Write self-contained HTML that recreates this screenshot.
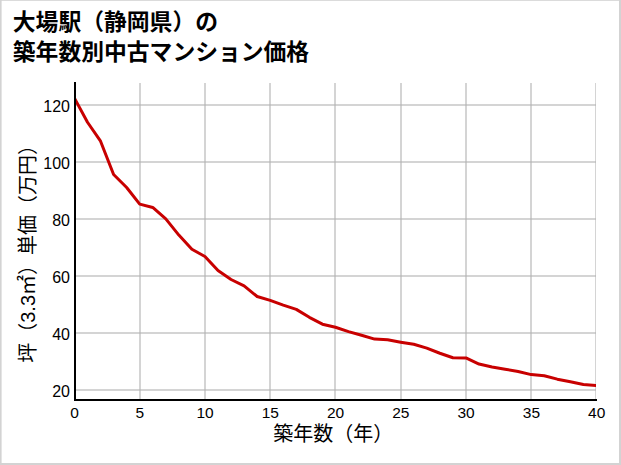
<!DOCTYPE html>
<html><head><meta charset="utf-8"><title>chart</title>
<style>html,body{margin:0;padding:0;background:#fff;font-family:"Liberation Sans",sans-serif}</style>
</head><body>
<svg width="621" height="465" viewBox="0 0 621 465" style="display:block" role="img" aria-label="大場駅（静岡県）の築年数別中古マンション価格">
<title>大場駅（静岡県）の築年数別中古マンション価格</title>
<desc>折れ線グラフ。横軸: 築年数（年） 0 5 10 15 20 25 30 35 40。縦軸: 坪（3.3㎡）単価（万円） 20 40 60 80 100 120。</desc>
<rect x="0" y="0" width="621" height="465" fill="#d3d3d3"/>
<rect x="1.6" y="0.8" width="617.4" height="462.2" fill="#ffffff"/>
<defs><clipPath id="ax"><rect x="75" y="83" width="521" height="317"/></clipPath></defs>
<g clip-path="url(#ax)">
<g fill="rgba(176,176,176,0.55)">
<rect x="74" y="83" width="2" height="317"/>
<rect x="139" y="83" width="2" height="317"/>
<rect x="204" y="83" width="2" height="317"/>
<rect x="269" y="83" width="2" height="317"/>
<rect x="334" y="83" width="2" height="317"/>
<rect x="400" y="83" width="2" height="317"/>
<rect x="465" y="83" width="2" height="317"/>
<rect x="530" y="83" width="2" height="317"/>
<rect x="595" y="83" width="2" height="317"/>
<rect x="75" y="389" width="521" height="2"/>
<rect x="75" y="332" width="521" height="2"/>
<rect x="75" y="275" width="521" height="2"/>
<rect x="75" y="218" width="521" height="2"/>
<rect x="75" y="161" width="521" height="2"/>
<rect x="75" y="104" width="521" height="2"/>
</g>
<polyline points="74.45,98.16 87.50,122.24 100.55,141.19 113.60,174.54 126.65,187.51 139.70,204.09 152.75,207.46 165.80,218.91 178.85,235.10 191.90,249.21 204.95,256.48 218.00,270.58 231.05,279.48 244.10,285.80 257.15,296.52 270.20,300.37 283.25,305.07 296.30,309.35 309.35,317.32 322.40,324.17 335.45,327.30 348.50,331.57 361.55,335.28 374.60,339.10 387.65,339.84 400.70,342.21 413.75,344.29 426.80,348.11 439.85,353.24 452.90,357.71 465.95,357.94 479.00,364.06 492.05,367.00 505.10,369.19 518.15,371.48 531.20,374.61 544.25,375.75 557.30,379.17 570.35,381.74 583.40,384.58 596.45,385.44" fill="none" stroke="#c80000" stroke-width="3.0" stroke-linejoin="round" stroke-linecap="butt"/>
</g>
<g stroke="#000" stroke-width="2" stroke-linecap="square" fill="none">
<line x1="75.0" y1="83.0" x2="75.0" y2="400.0"/>
<line x1="75.0" y1="400.0" x2="596.0" y2="400.0"/>
</g>
<g font-family="'Liberation Sans','Noto Sans CJK JP',sans-serif" font-size="15.5" fill="#000000" text-anchor="middle">
<text x="74.45" y="417.8">0</text>
<text x="139.73" y="417.8">5</text>
<text x="205.01" y="417.8">10</text>
<text x="270.29" y="417.8">15</text>
<text x="335.57" y="417.8">20</text>
<text x="400.85" y="417.8">25</text>
<text x="466.13" y="417.8">30</text>
<text x="531.41" y="417.8">35</text>
<text x="596.69" y="417.8">40</text>
</g>
<g font-family="'Liberation Sans','Noto Sans CJK JP',sans-serif" font-size="16" fill="#000000" text-anchor="end">
<text x="70" y="396.85">20</text>
<text x="70" y="339.85">40</text>
<text x="70" y="282.85">60</text>
<text x="70" y="225.85">80</text>
<text x="70" y="168.85">100</text>
<text x="70" y="111.85">120</text>
</g>
<text x="273.3" y="440.7" font-family="'Liberation Sans','Noto Sans CJK JP',sans-serif" font-size="20" fill="#000000">築年数（年）</text>
<text transform="translate(34.60,362.80) rotate(-90)" font-family="'Liberation Sans','Noto Sans CJK JP',sans-serif" font-size="20" fill="#000000">坪（3.3㎡）単価（万円）</text>
<text x="12.8" y="30.2" font-family="'Liberation Sans','Noto Sans CJK JP',sans-serif" font-size="22.8" font-weight="bold" fill="#000">大場駅（静岡県）の</text>
<text x="12.8" y="59.5" font-family="'Liberation Sans','Noto Sans CJK JP',sans-serif" font-size="22.8" font-weight="bold" fill="#000">築年数別中古マンション価格</text>
</svg>
</body></html>
